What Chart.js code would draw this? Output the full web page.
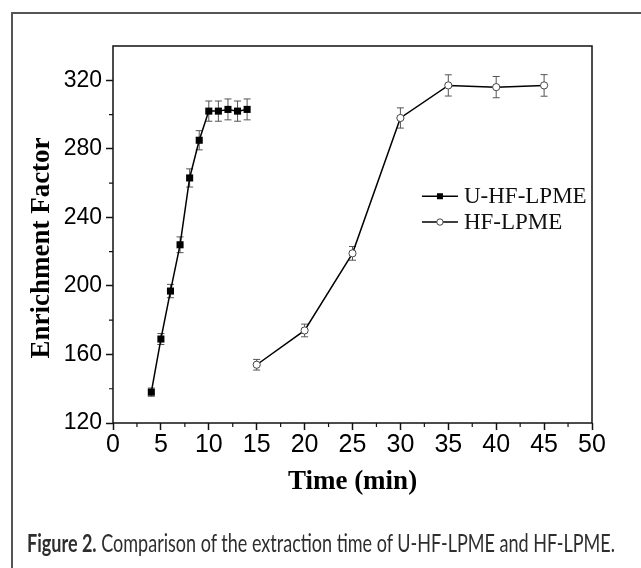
<!DOCTYPE html>
<html><head><meta charset="utf-8">
<script src="https://cdn.jsdelivr.net/npm/chart.js@4.4.1/dist/chart.umd.min.js"></script>
<style>
html,body{margin:0;padding:0;background:#fff;width:641px;height:568px;overflow:hidden;}
#frame{position:absolute;left:11px;top:12px;width:700px;height:700px;border:2px solid #555;box-sizing:border-box;}
#c{position:absolute;left:0;top:0;width:641px;height:568px;}
#cap{position:absolute;left:27px;top:527px;font-family:Lato,'Open Sans',sans-serif;font-size:25px;line-height:30px;color:#2e2e2e;white-space:nowrap;transform-origin:0 0;}
</style></head><body>
<div id="frame"></div>
<canvas id="c" width="641" height="568"></canvas>
<div id="cap"><b>Figure 2.</b> Comparison of the extraction time of U-HF-LPME and HF-LPME.</div>
<script>
// ---- data ----
const seriesNames = ['U-HF-LPME', 'HF-LPME'];
const timeU = [4, 5, 6, 7, 8, 9, 10, 11, 12, 13, 14];
const efU   = [138, 169, 197, 224, 263, 285, 302, 302, 303, 302, 303];
const errU  = [2.4, 3.2, 3.9, 4.6, 5.3, 5.6, 5.9, 5.9, 6.1, 5.9, 6.1];
const timeHF = [15, 20, 25, 30, 35, 40, 45];
const efHF   = [154, 174, 219, 298, 317, 316, 317];
const errHF  = [3.1, 3.7, 4.0, 5.9, 6.2, 6.2, 6.3];
const xMajor = [0, 5, 10, 15, 20, 25, 30, 35, 40, 45, 50];
const xMinor = [2.5, 7.5, 12.5, 17.5, 22.5, 27.5, 32.5, 37.5, 42.5, 47.5];
const yMajor = [120, 160, 200, 240, 280, 320];
const yMinor = [140, 180, 220, 260, 300];
const xTitle = 'Time (min)';
const yTitle = 'Enrichment Factor';

const toPts = (xs, ys) => xs.map((v, i) => ({x: v, y: ys[i]}));

const errorBars = {
  id: 'errorBars',
  beforeDatasetsDraw(chart) {
    const {ctx, scales: {x, y}} = chart;
    ctx.save();
    ctx.strokeStyle = '#555';
    ctx.lineWidth = 1;
    chart.data.datasets.forEach(ds => {
      ds.data.forEach((p, i) => {
        const e = ds.errors[i];
        const px = x.getPixelForValue(p.x);
        const t = y.getPixelForValue(p.y + e), b = y.getPixelForValue(p.y - e);
        ctx.beginPath();
        ctx.moveTo(px, t); ctx.lineTo(px, b);
        ctx.moveTo(px - 3.5, t); ctx.lineTo(px + 3.5, t);
        ctx.moveTo(px - 3.5, b); ctx.lineTo(px + 3.5, b);
        ctx.stroke();
      });
    });
    ctx.restore();
  }
};

const frameAndMinor = {
  id: 'frameAndMinor',
  afterDraw(chart) {
    const {ctx, chartArea: a, scales: {x, y}} = chart;
    ctx.save();
    ctx.strokeStyle = '#111';
    ctx.lineWidth = 1.5;
    ctx.strokeRect(a.left, a.top, a.width, a.height);
    ctx.lineWidth = 1.2;
    ctx.beginPath();
    xMinor.forEach(v => { const px = x.getPixelForValue(v); ctx.moveTo(px, a.bottom); ctx.lineTo(px, a.bottom + 4); });
    yMinor.forEach(v => { const py = y.getPixelForValue(v); ctx.moveTo(a.left, py); ctx.lineTo(a.left - 4, py); });
    ctx.stroke();
    ctx.restore();
  }
};

const legendBox = {
  id: 'legendBox',
  afterDraw(chart) {
    const {ctx, chartArea: a} = chart;
    const x0 = a.left + a.width * 0.645, len = 36;
    const rows = [a.top + a.height * 0.3985, a.top + a.height * 0.467];
    ctx.save();
    chart.data.datasets.forEach((ds, i) => {
      const yy = rows[i];
      ctx.strokeStyle = '#000'; ctx.lineWidth = 1.6;
      ctx.beginPath(); ctx.moveTo(x0, yy); ctx.lineTo(x0 + len, yy); ctx.stroke();
      const cx = x0 + len / 2;
      if (ds.pointStyle === 'rect') {
        ctx.fillStyle = '#000'; ctx.fillRect(cx - 3, yy - 3, 6, 6);
      } else {
        ctx.fillStyle = '#fff'; ctx.strokeStyle = '#444'; ctx.lineWidth = 1;
        ctx.beginPath(); ctx.arc(cx, yy, 3.2, 0, Math.PI * 2); ctx.fill(); ctx.stroke();
      }
      ctx.fillStyle = '#111';
      ctx.font = '23px "Liberation Serif", "Times New Roman", serif';
      ctx.textBaseline = 'middle'; ctx.textAlign = 'left';
      ctx.fillText(ds.label, x0 + len + 6, yy + 1);
    });
    ctx.restore();
  }
};

new Chart(document.getElementById('c'), {
  type: 'line',
  data: {
    datasets: [
      { label: seriesNames[0], data: toPts(timeU, efU), errors: errU,
        borderColor: '#000', borderWidth: 1.5, pointStyle: 'rect', pointRadius: 5,
        pointBackgroundColor: '#000', pointBorderColor: '#000', pointBorderWidth: 0, tension: 0 },
      { label: seriesNames[1], data: toPts(timeHF, efHF), errors: errHF,
        borderColor: '#000', borderWidth: 1.5, pointStyle: 'circle', pointRadius: 3.6,
        pointBackgroundColor: '#fff', pointBorderColor: '#444', pointBorderWidth: 1, tension: 0 }
    ]
  },
  options: {
    responsive: false, animation: false, devicePixelRatio: 1,
    layout: { padding: { top: 46, right: 49, left: 0, bottom: 0 } },
    plugins: { legend: { display: false }, tooltip: { enabled: false } },
    scales: {
      x: {
        type: 'linear', min: 0, max: 50,
        afterBuildTicks: s => { s.ticks = xMajor.map(v => ({value: v})); },
        afterFit: s => { s.height = 145; },
        grid: { drawOnChartArea: false, drawTicks: true, tickLength: 7, tickWidth: 1.5, tickColor: '#111' },
        border: { display: false },
        ticks: { color: '#000', padding: 0, maxRotation: 0, autoSkip: false,
          font: { family: '"Liberation Sans", Arial, sans-serif', size: 25 } },
        title: { display: true, text: xTitle, color: '#000', padding: { top: 0, bottom: 70 },
          font: { family: '"Liberation Serif", "Times New Roman", serif', size: 27, weight: 'bold' } }
      },
      y: {
        type: 'linear', min: 120, max: 340,
        afterBuildTicks: s => { s.ticks = yMajor.map(v => ({value: v})); },
        afterFit: s => { s.width = 113; },
        grid: { drawOnChartArea: false, drawTicks: true, tickLength: 7, tickWidth: 1.5, tickColor: '#111' },
        border: { display: false },
        ticks: { color: '#000', padding: 4, autoSkip: false,
          font: { family: '"Liberation Sans", Arial, sans-serif', size: 23 } },
        title: { display: true, text: yTitle + '    ', color: '#000', padding: { top: 25.5, bottom: 0 },
          font: { family: '"Liberation Serif", "Times New Roman", serif', size: 27, weight: 'bold' } }
      }
    }
  },
  plugins: [errorBars, frameAndMinor, legendBox]
});

// fit caption width to reference
const cap = document.getElementById('cap');
const w = cap.getBoundingClientRect().width;
cap.style.transform = 'scaleX(' + (588 / w) + ')';
</script>
</body></html>
